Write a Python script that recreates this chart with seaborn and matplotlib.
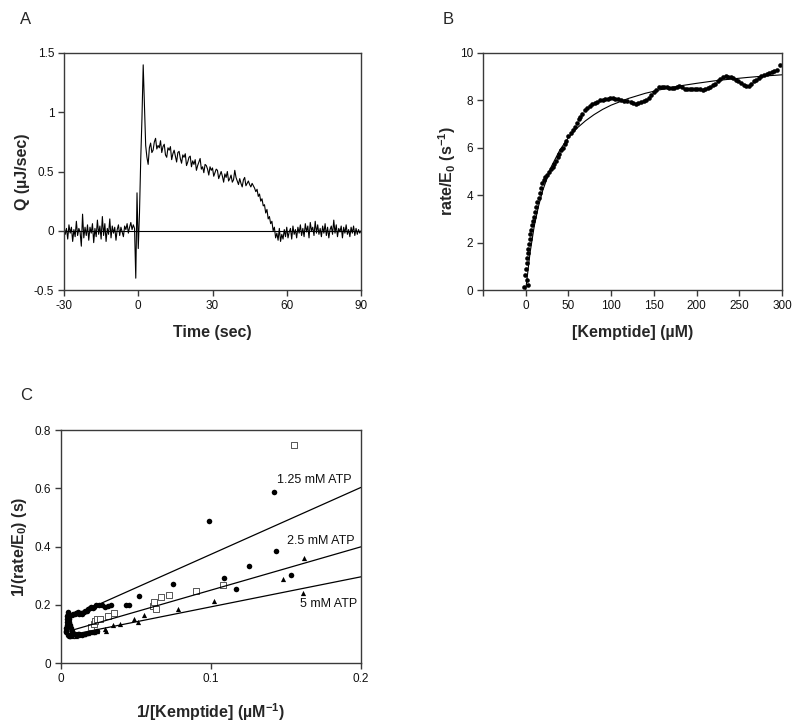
import numpy as np
import pandas as pd
import seaborn as sns
import matplotlib.pyplot as plt

sns.set_theme(style="ticks")
plt.rcParams['font.family'] = ['Liberation Sans', 'DejaVu Sans']
plt.rcParams['mathtext.default'] = 'regular'
plt.rcParams['axes.unicode_minus'] = False

# ---- panel A: heat trace, sampled every 0.5 s from -30 to 90 s ----
t_start, t_step = -30.0, 0.5
q_base = [0.04, -0.03, 0.02, -0.07, 0.05, -0.02, 0.03, -0.09, 0.01, -0.05,
          0.08, -0.04, 0.02, -0.01, -0.13, 0.14, -0.06, 0.03, -0.04, 0.05,
          -0.08, 0.03, -0.02, 0.06, -0.1, 0.02, -0.05, 0.09, -0.03, 0.04,
          -0.07, 0.12, -0.04, 0.06, -0.09, 0.02, -0.03, 0.1, -0.06, 0.04,
          -0.02, 0.03, -0.08, 0.01, 0.05, -0.04, 0.03, -0.01, -0.05, 0.04,
          0.01, 0.06, -0.02, 0.03, 0.07, 0.01, 0.05]
q_spike = [0.02, -0.40, 0.32, -0.15, 0.15, 0.60, 0.95, 1.40, 1.05, 0.72]
q_decay = [0.62, 0.56, 0.70, 0.74, 0.66, 0.68, 0.75, 0.78, 0.69, 0.72,
           0.70, 0.76, 0.66, 0.71, 0.73, 0.64, 0.62, 0.70, 0.68, 0.71,
           0.60, 0.65, 0.68, 0.63, 0.58, 0.66, 0.67, 0.61, 0.57, 0.64,
           0.62, 0.65, 0.55, 0.58, 0.62, 0.63, 0.54, 0.59, 0.56, 0.60,
           0.51, 0.55, 0.58, 0.61, 0.52, 0.54, 0.49, 0.56, 0.55, 0.52,
           0.47, 0.54, 0.51, 0.53, 0.46, 0.49, 0.52, 0.51, 0.44, 0.47,
           0.50, 0.46, 0.41, 0.48, 0.45, 0.50, 0.42, 0.44, 0.47, 0.41,
           0.43, 0.51, 0.45, 0.42, 0.39, 0.44, 0.40, 0.37, 0.43, 0.45,
           0.38, 0.40, 0.42, 0.39, 0.37, 0.40, 0.38, 0.36, 0.33, 0.35,
           0.29, 0.31, 0.25, 0.27, 0.21, 0.22, 0.15, 0.18, 0.10, 0.12,
           0.06, 0.08, 0.0, 0.03, -0.06, -0.02]
q_tail = [-0.08, 0.02, -0.09, -0.03, -0.07, 0.01, -0.05, 0.03, -0.06, -0.01,
          0.02, -0.07, 0.04, -0.03, 0.01, -0.06, 0.03, -0.02, 0.05, -0.04,
          0.02, -0.05, 0.06, -0.01, 0.04, -0.06, 0.07, 0.0, 0.03, -0.04,
          0.08, -0.02, 0.05, -0.03, 0.02, -0.05, 0.04, -0.02, 0.06, -0.04,
          0.03, -0.06, 0.01, 0.04, -0.03, 0.09, -0.02, 0.05, -0.05, 0.02,
          -0.01, 0.04, -0.06, 0.03, -0.02, 0.05, -0.03, 0.01, -0.05, 0.03,
          -0.02, 0.04, -0.04, 0.02, -0.03, 0.01, -0.02, 0.0]

# ---- panel B: rate vs substrate ----
kemp = [-2, 2, 3, -1, 0, 1, 1.5, 2.3, 3, 3.8, 4.6, 5.5, 6.5, 7.5, 8.6, 9.8,
        11, 12.3, 13.6, 15, 16.5, 18, 19.5, 21, 23, 25.5, 27.5, 29.5, 31.5,
        33.5, 35.5, 37.5, 39.5, 41.5, 43.5, 45.5, 47.5, 50, 52.5, 55, 57.5,
        60, 62, 64, 66, 69, 72, 75, 78, 81, 84, 87, 90, 93, 96, 99, 102, 105,
        108, 111, 115, 119, 123, 126, 129, 132, 135, 138, 141, 144, 147, 150,
        153, 156, 159, 162, 165, 168, 171, 174, 177, 180, 183, 186, 189, 192,
        195, 198, 201, 204, 207, 210, 213, 216, 219, 222, 225, 228, 231, 234,
        237, 240, 243, 246, 249, 252, 255, 258, 261, 264, 267, 270, 273, 276,
        279, 282, 285, 288, 291, 294, 297.5]
rate = [0.12, 0.42, 0.22, 0.65, 0.9, 1.15, 1.35, 1.55, 1.75, 1.95, 2.15, 2.35,
        2.55, 2.75, 2.92, 3.1, 3.3, 3.5, 3.7, 3.9, 4.1, 4.3, 4.5, 4.65, 4.75,
        4.85, 5.0, 5.1, 5.2, 5.3, 5.45, 5.6, 5.75, 5.9, 6.0, 6.15, 6.3, 6.5,
        6.62, 6.75, 6.88, 7.05, 7.2, 7.3, 7.42, 7.6, 7.68, 7.75, 7.83, 7.9,
        7.95, 8.0, 8.03, 8.06, 8.08, 8.09, 8.09, 8.07, 8.05, 8.03, 7.98, 7.96,
        7.93, 7.88, 7.85, 7.9, 7.95, 7.97, 8.02, 8.1, 8.22, 8.35, 8.45, 8.55,
        8.58, 8.56, 8.55, 8.54, 8.53, 8.52, 8.55, 8.6, 8.56, 8.5, 8.49, 8.48,
        8.48, 8.47, 8.46, 8.47, 8.45, 8.5, 8.53, 8.57, 8.63, 8.7, 8.8, 8.9,
        8.98, 9.02, 9.0, 8.97, 8.93, 8.87, 8.8, 8.72, 8.66, 8.6, 8.62, 8.7,
        8.8, 8.88, 8.95, 9.02, 9.07, 9.12, 9.17, 9.2, 9.25, 9.3, 9.48]
fit_s = [0, 5, 10, 15, 20, 30, 40, 50, 60, 70, 80, 90, 100, 120, 140, 160,
         180, 200, 220, 240, 260, 280, 300]
fit_v = [0.0, 1.55, 2.70, 3.54, 4.21, 5.21, 5.91, 6.43, 6.83, 7.14, 7.40,
         7.62, 7.80, 8.08, 8.30, 8.47, 8.61, 8.72, 8.82, 8.90, 8.97, 9.03, 9.08]

# ---- panel C: double reciprocal ----
circ_x = [0.0033, 0.0035, 0.0036, 0.0038, 0.004, 0.004, 0.0042, 0.0044,
          0.0045, 0.005, 0.0052, 0.0055, 0.006, 0.0065, 0.007, 0.0075, 0.008,
          0.009, 0.01, 0.011, 0.012, 0.0045, 0.005, 0.006, 0.007, 0.008,
          0.009, 0.010, 0.011, 0.012, 0.013, 0.014, 0.015, 0.016, 0.017,
          0.018, 0.019, 0.020, 0.021, 0.022, 0.023, 0.025, 0.027, 0.029,
          0.031, 0.033, 0.043, 0.045, 0.012, 0.014, 0.016, 0.018, 0.020,
          0.022, 0.024, 0.052, 0.0749, 0.0989, 0.1084, 0.1169, 0.1256, 0.142,
          0.143, 0.1533]
circ_y = [0.105, 0.11, 0.12, 0.13, 0.14, 0.15, 0.16, 0.17, 0.175, 0.16, 0.15,
          0.14, 0.13, 0.12, 0.11, 0.105, 0.10, 0.098, 0.097, 0.098, 0.1,
          0.095, 0.092, 0.093, 0.165, 0.17, 0.168, 0.172, 0.175, 0.17, 0.172,
          0.168, 0.175, 0.18, 0.178, 0.185, 0.19, 0.192, 0.188, 0.193, 0.198,
          0.2, 0.198, 0.192, 0.195, 0.2, 0.2, 0.2, 0.095, 0.097, 0.1, 0.103,
          0.105, 0.108, 0.11, 0.23, 0.27, 0.488, 0.291, 0.253, 0.334, 0.586,
          0.386, 0.301]
sq_x = [0.0202, 0.0222, 0.0229, 0.024, 0.0258, 0.0313, 0.0351, 0.0613, 0.0622,
        0.0636, 0.0669, 0.0722, 0.0898, 0.1078, 0.1551]
sq_y = [0.124, 0.133, 0.144, 0.152, 0.152, 0.163, 0.172, 0.195, 0.21, 0.185,
        0.227, 0.233, 0.248, 0.269, 0.747]
tri_x = [0.007, 0.010, 0.0151, 0.018, 0.0218, 0.024, 0.0291, 0.0302, 0.0344,
         0.0396, 0.0489, 0.0513, 0.0553, 0.0782, 0.1022, 0.148, 0.1611, 0.1622]
tri_y = [0.092, 0.094, 0.10, 0.102, 0.105, 0.109, 0.118, 0.110, 0.13, 0.135,
         0.152, 0.141, 0.166, 0.185, 0.212, 0.29, 0.242, 0.359]
line_x = [0.005, 0.2]
line_125 = [0.155, 0.603]
line_25 = [0.109, 0.399]
line_5 = [0.095, 0.296]
atp_labels = ["1.25 mM ATP", "2.5 mM ATP", "5 mM ATP"]
label_x = [0.144, 0.1507, 0.1595]
label_y = [0.628, 0.42, 0.204]

q_all = q_base + q_spike + q_decay + q_tail
t_all = t_start + t_step * np.arange(len(q_all))
df_a = pd.DataFrame({"t": t_all, "q": q_all})

frame_col = "#3a3a3a"


def style_axes(ax):
    for s in ax.spines.values():
        s.set_color(frame_col)
        s.set_linewidth(1.0)
    ax.tick_params(direction="out", length=4, width=1, color=frame_col,
                   labelsize=8.5, pad=3, top=False, right=False,
                   labelcolor="#111111")


fig = plt.figure(figsize=(8, 7.22), dpi=100)
axA = fig.add_axes([0.08, 0.5983, 0.37125, 0.3283])
axB = fig.add_axes([0.60375, 0.5983, 0.37375, 0.3283])
axC = fig.add_axes([0.07625, 0.0817, 0.375, 0.3227])

# A
sns.lineplot(data=df_a, x="t", y="q", ax=axA, color="black", lw=0.8,
             estimator=None)
axA.axhline(0, color="black", lw=0.8)
axA.set_xlim(-30, 90)
axA.set_ylim(-0.5, 1.5)
axA.set_xticks([-30, 0, 30, 60, 90])
axA.set_yticks([-0.5, 0, 0.5, 1, 1.5])
axA.set_yticklabels(["-0.5", "0", "0.5", "1", "1.5"])
axA.set_xlabel("Time (sec)", fontsize=11.5, fontweight="bold")
axA.set_ylabel("Q (µJ/sec)", fontsize=11.5, fontweight="bold")
axA.xaxis.set_label_coords(0.5, -0.148)
axA.yaxis.set_label_coords(-0.114, 0.5)
style_axes(axA)

# B
sns.lineplot(x=fit_s, y=fit_v, ax=axB, color="black", lw=0.8, estimator=None)
sns.scatterplot(x=kemp, y=rate, ax=axB, color="black", s=11, linewidth=0)
axB.set_xlim(-50, 300)
axB.set_ylim(0, 10)
axB.set_xticks([-50, 0, 50, 100, 150, 200, 250, 300])
axB.set_xticklabels(["", "0", "50", "100", "150", "200", "250", "300"])
axB.set_yticks([0, 2, 4, 6, 8, 10])
axB.set_xlabel("[Kemptide] (µM)", fontsize=11.5, fontweight="bold")
axB.set_ylabel("rate/E$_0$ (s$^{-1}$)", fontsize=11.5, fontweight="bold")
axB.xaxis.set_label_coords(0.5, -0.148)
axB.yaxis.set_label_coords(-0.0835, 0.5)
style_axes(axB)

# C
for ly in [line_125, line_25, line_5]:
    sns.lineplot(x=line_x, y=ly, ax=axC, color="black", lw=0.9,
                 estimator=None)
sns.scatterplot(x=circ_x, y=circ_y, ax=axC, color="black", s=16, linewidth=0)
sns.scatterplot(x=sq_x, y=sq_y, ax=axC, marker="s", color="white",
                edgecolor="#555555", linewidth=0.7, s=16)
sns.scatterplot(x=tri_x, y=tri_y, ax=axC, marker="^", color="black", s=14,
                linewidth=0)
for lab, lx, ly in zip(atp_labels, label_x, label_y):
    axC.text(lx, ly, lab, fontsize=9, ha="left", va="center", color="#111111")
axC.set_xlim(0, 0.2)
axC.set_ylim(0, 0.8)
axC.set_xticks([0, 0.1, 0.2])
axC.set_xticklabels(["0", "0.1", "0.2"])
axC.set_yticks([0, 0.2, 0.4, 0.6, 0.8])
axC.set_yticklabels(["0", "0.2", "0.4", "0.6", "0.8"])
axC.set_xlabel("1/[Kemptide] (µM$^{-1}$)", fontsize=11.5, fontweight="bold")
axC.set_ylabel("1/(rate/E$_0$) (s)", fontsize=11.5, fontweight="bold")
axC.xaxis.set_label_coords(0.5, -0.163)
axC.yaxis.set_label_coords(-0.106, 0.5)
style_axes(axC)

for lab, fx, fy in [("A", 20, 20), ("B", 443, 20), ("C", 20, 395)]:
    fig.text(fx / 800, 1 - fy / 722, lab, fontsize=12, ha="left", va="center")

fig.savefig("out.png", dpi=100)
